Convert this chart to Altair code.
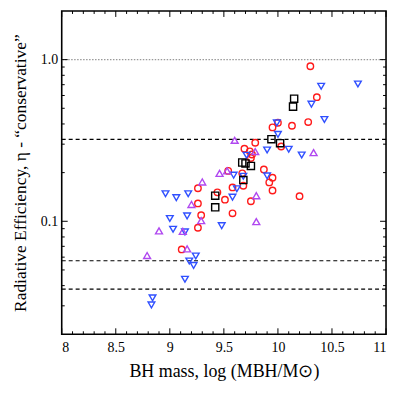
import altair as alt
import pandas as pd

# ---- data ----
red_x = [10.30, 10.36, 10.28, 10.13, 10.00, 9.95, 9.79, 10.03, 9.69, 9.74, 9.76, 9.75, 9.87, 9.54, 9.67,
         9.95, 9.92, 9.68, 9.58, 9.95, 10.20, 9.26, 9.44, 9.51, 9.75, 9.26, 9.58, 9.29, 9.26, 9.11]
red_y = [0.91, 0.586, 0.411, 0.39, 0.407, 0.381, 0.306, 0.29, 0.281, 0.271, 0.259, 0.246, 0.209, 0.205, 0.198,
         0.186, 0.174, 0.166, 0.162, 0.155, 0.143, 0.16, 0.151, 0.136, 0.133, 0.129, 0.112, 0.109, 0.0912, 0.067]

blue_x = [10.40, 10.74, 10.31, 10.43, 9.99, 10.00, 10.10, 9.90, 10.22, 9.71, 9.59, 9.68, 9.90, 9.62, 9.58,
          8.96, 9.06, 9.17, 9.00, 9.16, 9.03, 9.14, 9.48, 9.24, 9.18, 9.22, 9.14, 8.84, 8.83]
blue_y = [0.684, 0.707, 0.53, 0.426, 0.406, 0.345, 0.279, 0.276, 0.257, 0.256, 0.193, 0.19, 0.191, 0.159, 0.141,
          0.148, 0.14, 0.148, 0.104, 0.108, 0.0893, 0.0859, 0.094, 0.061, 0.0568, 0.0533, 0.0438, 0.0336, 0.0304]

purple_x = [9.60, 9.79, 9.46, 9.53, 9.30, 9.80, 9.20, 9.80, 9.29, 8.90, 9.12, 9.16, 8.79, 10.33]
purple_y = [0.317, 0.27, 0.198, 0.205, 0.175, 0.144, 0.127, 0.0996, 0.101, 0.0873, 0.0866, 0.0675, 0.0614, 0.266]

black_x = [10.15, 10.14, 9.94, 10.02, 9.67, 9.70, 9.75, 9.68, 9.42, 9.42]
black_y = [0.573, 0.512, 0.322, 0.304, 0.231, 0.228, 0.22, 0.18, 0.144, 0.122]

dashed_levels = [0.038, 0.057, 0.321]
dotted_levels = [1.0]

x_major = [8, 8.5, 9, 9.5, 10, 10.5, 11]
x_minor = [round(8 + 0.1 * i, 1) for i in range(31) if i % 5 != 0]
y_major = [0.1, 1.0]
y_minor = [0.03, 0.04, 0.05, 0.06, 0.07, 0.08, 0.09, 0.2, 0.3, 0.4, 0.5, 0.6, 0.7, 0.8, 0.9]

groups = ["red", "blue", "purple", "black"]
colors = ["#ff1a1a", "#3050ff", "#b048f0", "#000000"]
shapes = ["circle", "triangle-down", "triangle-up", "square"]
sizes = [42, 52, 52, 17]

rows = []
for g, xs, ys in [("red", red_x, red_y), ("blue", blue_x, blue_y),
                  ("purple", purple_x, purple_y), ("black", black_x, black_y)]:
    for a, b in zip(xs, ys):
        rows.append({"mass": a, "eta": b, "group": g})
df = pd.DataFrame(rows)

W, H = 326, 325
FONT = "Liberation Serif"

xscale = alt.Scale(domain=[8, 11], nice=False, zero=False)
yscale = alt.Scale(type="log", domain=[0.02, 2], nice=False)

points = alt.Chart(df).mark_point(filled=False, strokeWidth=1.4, opacity=1).encode(
    x=alt.X("mass:Q", scale=xscale,
            axis=alt.Axis(title="BH mass, log (MBH/M⊙)", values=x_major, format="~g",
                          ticks=False, domain=False, grid=False, labelPadding=6,
                          titlePadding=8, titleFontSize=18)),
    y=alt.Y("eta:Q", scale=yscale,
            axis=alt.Axis(title="Radiative Efficiency, η - “conservative”", values=y_major,
                          format=".1f", ticks=False, domain=False, grid=False,
                          labelPadding=4, titlePadding=11)),
    color=alt.Color("group:N", scale=alt.Scale(domain=groups, range=colors), legend=None),
    shape=alt.Shape("group:N", scale=alt.Scale(domain=groups, range=shapes), legend=None),
    size=alt.Size("group:N", scale=alt.Scale(domain=groups, range=sizes), legend=None),
)

dashed = alt.Chart(pd.DataFrame({"v": dashed_levels})).mark_rule(
    color="black", strokeDash=[4, 3], strokeWidth=1.2).encode(y=alt.Y("v:Q", scale=yscale))
dotted = alt.Chart(pd.DataFrame({"v": dotted_levels})).mark_rule(
    color="#999999", strokeDash=[1.5, 1.5], strokeWidth=1.2).encode(y=alt.Y("v:Q", scale=yscale))


def xticks(vals, length):
    d = pd.DataFrame({"v": vals})
    bottom = alt.Chart(d).mark_rule(color="black", strokeWidth=1).encode(
        x=alt.X("v:Q", scale=xscale), y=alt.value(H), y2=alt.value(H - length))
    top = alt.Chart(d).mark_rule(color="black", strokeWidth=1).encode(
        x=alt.X("v:Q", scale=xscale), y=alt.value(0), y2=alt.value(length))
    return [bottom, top]


def yticks(vals, length):
    d = pd.DataFrame({"v": vals})
    left = alt.Chart(d).mark_rule(color="black", strokeWidth=1).encode(
        y=alt.Y("v:Q", scale=yscale), x=alt.value(0), x2=alt.value(length))
    right = alt.Chart(d).mark_rule(color="black", strokeWidth=1).encode(
        y=alt.Y("v:Q", scale=yscale), x=alt.value(W), x2=alt.value(W - length))
    return [left, right]


layers = [dotted, dashed] + xticks(x_major, 6) + xticks(x_minor, 3) + \
    yticks(y_major, 6) + yticks(y_minor, 3) + [points]

chart = alt.layer(*layers).properties(
    width=W, height=H,
    autosize=alt.AutoSizeParams(type="none"),
    padding={"left": 54, "top": 2, "right": 5, "bottom": 50},
).configure_view(
    stroke="black", strokeWidth=1.6
).configure_axis(
    labelFont=FONT, titleFont=FONT, labelFontSize=14, titleFontSize=17.5,
    labelColor="black", titleColor="black", titleFontWeight="normal"
)

chart.save("out.html", embed_options={"renderer": "svg", "actions": False})
